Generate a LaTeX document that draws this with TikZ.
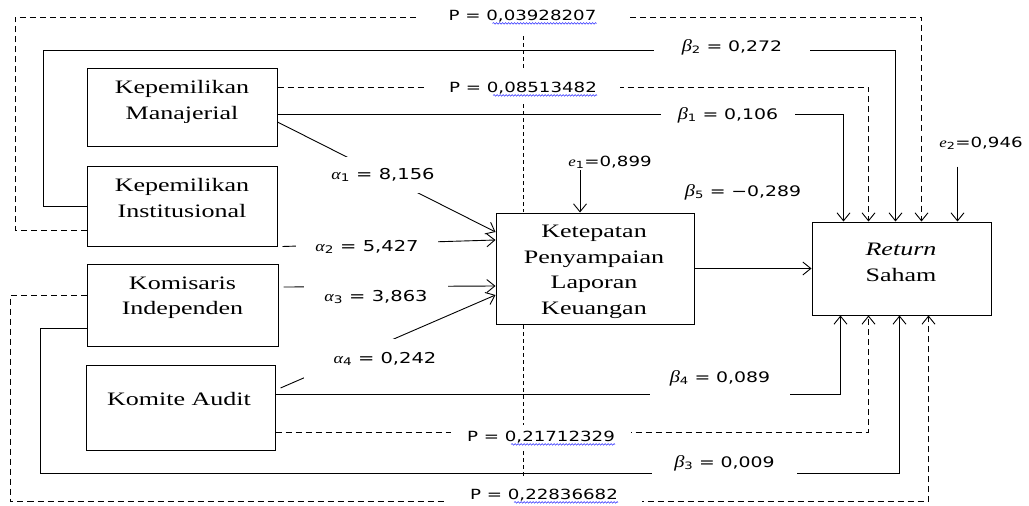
\documentclass[tikz,border=0pt]{standalone}
\usepackage{fontspec}
\setmainfont{Liberation Serif}[FakeStretch=1.37]
\newfontfamily\labfont{DejaVu Sans}[FakeStretch=1.3]
\newfontfamily\grkfont{Liberation Serif}[FakeStretch=1.2]
\usetikzlibrary{arrows.meta,calc,backgrounds,decorations.pathmorphing}
\newcommand\gk[1]{{\grkfont\itshape #1}}
\newcommand\bgk[1]{{\grkfont\itshape\fontsize{17}{17}\selectfont #1}}
\newcommand\sbs[1]{\textsubscript{#1}}
\newcommand\meq{\hspace{0.4em}=\hspace{0.4em}}
\tikzset{
  box/.style={draw, fill=white, line width=1pt, inner sep=0pt},
  btext/.style={anchor=north, inner sep=0pt, align=center, font=\fontsize{19}{25.5}\selectfont},
  lbl/.style={fill=white, inner xsep=1pt, inner ysep=2pt, font=\labfont\fontsize{14}{16}\selectfont},
  blbl/.style={lbl, font=\labfont\fontsize{14.5}{16}\selectfont},
  albl/.style={lbl, font=\labfont\fontsize{15}{17}\selectfont},
  conn/.style={line width=0.9pt},
  arr/.style={-{Straight Barb[length=8pt,width=13pt,line width=0.9pt]}},
  dsh/.style={conn, dash pattern=on 6pt off 4pt},
  vdash/.style={line width=0.8pt, dash pattern=on 4pt off 3pt},
  wavy/.style={blue!85!white, line width=0.5pt, decorate, decoration={snake, amplitude=0.8pt, segment length=3pt}}
}
\begin{document}
\begin{tikzpicture}[x=1pt,y=-1pt]
\useasboundingbox (0,0) rectangle (1029,506);
% boxes
\node[box, minimum width=190pt, minimum height=78pt] (km) at (182,107) {};
\node[btext] (kmt) at (182,80.5) {Kepemilikan\\Manajerial};
\node[box, minimum width=190pt, minimum height=80pt] (ki) at (182,206) {};
\node[btext] (kit) at (182,178.3) {Kepemilikan\\Institusional};
\node[box, minimum width=191pt, minimum height=82pt] (kin) at (182.5,305) {};
\node[btext] (kint) at (182.5,276.7) {Komisaris\\Independen};
\node[box, minimum width=189pt, minimum height=85pt] (ka) at (180.5,407.5) {};
\node[btext] (kat) at (179,391.7) {Komite Audit};
\node[box, minimum width=198pt, minimum height=111pt] (kp) at (595,268.5) {};
\node[btext] (kpt) at (594,225) {Ketepatan\\Penyampaian\\Laporan\\Keuangan};
\node[box, minimum width=179pt, minimum height=93pt] (rs) at (901.5,268.5) {};
\node[btext] (rst) at (901,243.3) {\textit{Return}\\Saham};
% labels
\node[lbl, inner xsep=32pt] (p1) at (522.5,16) {P = 0,03928207};
\node[lbl, inner xsep=23pt, inner ysep=8pt] (p2) at (523,88) {P = 0,08513482};
\node[lbl, inner xsep=16pt, inner ysep=5pt] (p3) at (541,437) {P = 0,21712329};
\node[lbl, inner xsep=24pt, inner ysep=10pt] (p4) at (544,495) {P = 0,22836682};
\node[blbl, inner xsep=28pt] (b2) at (732,47) {\bgk{β}\sbs{2}\meq 0,272};
\node[blbl, inner xsep=17pt] (b1) at (728,115) {\bgk{β}\sbs{1}\meq 0,106};
\node[blbl] (b5) at (743,192) {\bgk{β}\sbs{5}\meq −0,289};
\node[blbl, inner xsep=20pt, inner ysep=12pt] (b4) at (720,378) {\bgk{β}\sbs{4}\meq 0,089};
\node[blbl, inner xsep=22pt, inner ysep=5pt] (b3) at (724.5,463) {\bgk{β}\sbs{3}\meq 0,009};
\node[albl, inner xsep=3pt, inner ysep=11pt] (a1) at (383,175) {\gk{α}\sbs{1} = 8,156};
\node[albl, inner xsep=19pt] (a2) at (367,247) {\gk{α}\sbs{2} = 5,427};
\node[albl, inner xsep=20pt, inner ysep=9pt] (a3) at (376,297) {\gk{α}\sbs{3} = 3,863};
\node[albl, inner xsep=30pt, inner ysep=13pt] (a4) at (385,359) {\gk{α}\sbs{4}\meq 0,242};
\node[lbl, fill=none] (e1) at (610,162) {\gk{e}\sbs{1}=0,899};
\node[lbl, fill=none] (e2) at (981,143) {\gk{e}\sbs{2}=0,946};
% spell-check underlines
\draw[wavy] ($(p1.base east)+(-136,3)$) -- ($(p1.base east)+(-32,3)$);
\draw[wavy] ($(p2.base east)+(-127,3)$) -- ($(p2.base east)+(-23,3)$);
\draw[wavy] ($(p3.base east)+(-120,3)$) -- ($(p3.base east)+(-16,3)$);
\draw[wavy] ($(p4.base east)+(-128,3)$) -- ($(p4.base east)+(-24,3)$);
% vertical reference line, in pieces between the labels and the box
\coordinate (v0) at (523,36);
\coordinate (v1) at (523,68);
\coordinate (v2) at (523,104);
\coordinate (v3) at (523,212);
\coordinate (v4) at (523,325);
\coordinate (v5) at (523,425);
\coordinate (v6) at (523,451);
\coordinate (v7) at (523,478);
\draw[vdash] (v0) -- (v1);
\draw[vdash] (v2) -- (v3);
\draw[vdash] (v4) -- (v5);
\draw[vdash] (v6) -- (v7);
% coordinates
\coordinate (E1) at ($(kp.north)+(-15,0)$);
\coordinate (E2) at ($(rs.north west)+(146,0)$);
\begin{scope}[on background layer]
\fill[white] (0,0) rectangle (1029,506);
% top paths
\draw[dsh, arr] ($(ki.south west)+(0,-16)$) -| (15,17) -| ($(rs.north west)+(110,0)$);
\draw[conn, arr] (ki.west) -| (43,50) -| ($(rs.north west)+(84,0)$);
\draw[dsh, arr] ($(km.east)+(0,-20)$) -| ($(rs.north west)+(57,0)$);
\draw[conn, arr] ($(km.east)+(0,7)$) -| ($(rs.north west)+(32,0)$);
% alpha paths
\draw[conn, arr] ($(km.east)+(0,15)$) -- ($(kp.west)+(0,-36.5)$);
\draw[conn, arr] ($(ki.south east)+(5,0)$) -- ($(kp.west)+(0,-28.5)$);
\draw[conn, arr] ($(kin.east)+(5,-18)$) -- ($(kp.west)+(0,17.5)$);
\draw[conn, arr] ($(ka.east)+(5,-19.5)$) -- ($(kp.west)+(0,26.5)$);
% mediator
\draw[conn, arr] (kp.east) -- (rs.west);
% bottom paths
\draw[conn, arr] ($(ka.east)+(0,-13.5)$) -| ($(rs.south west)+(29,0)$);
\draw[dsh, arr] ($(ka.east)+(0,24.5)$) -| ($(rs.south west)+(57,0)$);
\draw[conn, arr] ($(kin.south west)+(0,-18)$) -| (40,473) -| ($(rs.south west)+(88,0)$);
\draw[dsh, arr] ($(kin.west)+(0,-10)$) -| (10,501) -| ($(rs.south west)+(117,0)$);
% errors
\draw[conn, arr] (e1.south -| E1) -- (E1);
\draw[conn, arr] ($(e2.south -| E2)+(0,15)$) -- (E2);
\end{scope}
\end{tikzpicture}
\end{document}
